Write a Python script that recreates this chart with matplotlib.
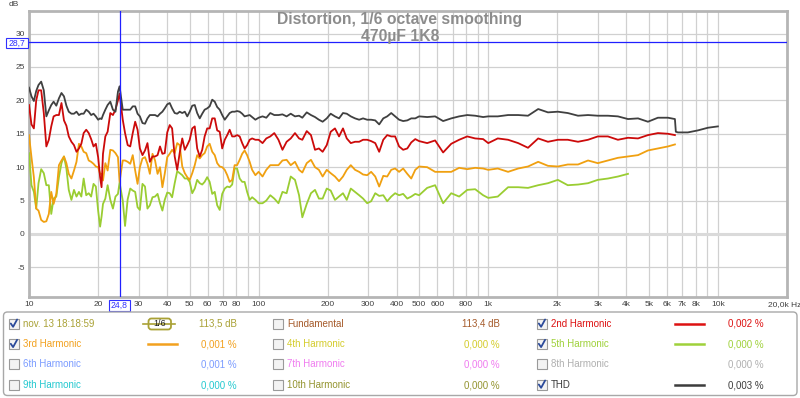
import matplotlib
matplotlib.use("Agg")
import matplotlib.pyplot as plt
from matplotlib.patches import Rectangle, FancyBboxPatch
from matplotlib.ticker import NullLocator

# frequency grid (Hz) shared by the curves: finer below 500 Hz, coarser above
freq_lo = [10, 10.25, 10.5, 10.75, 11, 11.3, 11.6, 11.9, 12.2, 12.5,
           12.8, 13.15, 13.5, 13.85, 14.2, 14.55, 14.9, 15.3, 15.7, 16.1,
           16.5, 16.9, 17.3, 17.75, 18.2, 18.65, 19.1, 19.55, 20, 20.4,
           20.7, 21, 21.5, 22, 22.6, 23.2, 23.8, 24.4, 24.8, 25.6,
           26.2, 26.9, 27.6, 28.3, 29, 29.7, 30.4, 31.2, 32, 32.8,
           33.6, 34.5, 35.4, 36.3, 37.2, 38.1, 39, 40, 41, 42,
           43.1, 44.2, 45.3, 46.5, 47.7, 48.9, 50.1, 51.4, 52.7, 54,
           55.4, 56.8, 58.2, 59.7, 61.2, 62.8, 64.4, 66, 67.7, 69.4,
           71.2, 73, 74.8, 76.7, 78.6, 80.6, 82.7, 84.8, 86.9, 89.1,
           91.4, 93.7, 96.8, 100]
freq_mid = [104, 108, 112.4, 117, 122, 127, 132.4, 138, 144, 150,
            155, 162, 169, 176, 183, 190, 198, 206, 215, 224,
            233, 242, 252, 263, 274, 285, 297, 309, 322, 335,
            349, 363, 378, 393, 409, 426, 444, 462, 481]
freq_hi = [500, 542, 587, 636, 690, 747, 810, 877, 950, 1000,
           1100, 1220, 1350, 1490, 1650, 1820, 2010, 2220, 2460, 2720,
           3000, 3320, 3670, 4060, 4490, 4960, 5480, 6060, 6500]
freq = freq_lo + freq_mid + freq_hi

thd_db = [21.9, 20.6, 19.9, 21.4, 22.3, 22.8, 21.5, 17.6, 18.5, 19.3,
          19.8, 19.2, 20.3, 21.1, 20.6, 19.2, 18.3, 18.0, 18.0, 18.3,
          17.8, 18.0, 18.0, 18.6, 18.3, 17.8, 18.0, 17.6, 17.1, 17.3,
          17.2, 17.8, 18.6, 19.3, 19.8, 18.6, 18.3, 21.3, 22.1, 18.6,
          18.6, 18.6, 18.6, 19.1, 19.1, 18.0, 17.6, 16.6, 16.5, 17.3,
          17.8, 17.8, 17.8, 17.6, 18.0, 18.3, 18.8, 19.4, 19.6, 18.8,
          18.1, 18.0, 18.3, 18.1, 18.3, 17.6, 18.3, 19.2, 19.3, 18.1,
          17.3, 18.0, 18.6, 18.8, 19.1, 20.1, 19.8, 19.0, 18.6, 17.8,
          17.1, 17.6, 18.1, 18.3, 18.3, 18.4, 18.3, 18.0, 17.6, 17.7,
          17.8, 17.5, 17.1, 17.4,
          17.6, 17.4, 18.1, 17.8, 17.8, 17.9, 17.6, 18.0, 17.6, 17.7,
          17.4, 18.2, 17.8, 17.5, 17.1, 16.8, 17.3, 18.0, 17.6, 17.3,
          18.1, 18.0, 17.6, 17.3, 17.1, 17.3, 17.1, 17.1, 17.0, 16.4,
          17.3, 17.6, 18.1, 17.6, 17.1, 16.9, 17.0, 17.3, 17.3,
          17.6, 17.5, 17.6, 16.9, 17.3, 17.6, 17.8, 17.7, 17.5, 17.6,
          17.6, 17.8, 17.8, 17.7, 18.7, 18.2, 18.3, 18.1, 17.7, 17.8,
          17.7, 17.7, 17.6, 17.2, 17.3, 16.8, 17.4, 17.4, 17.2]
thd_tail_freq = [6560, 6700, 7400, 8180, 9050, 10000]
thd_tail_db = [15.3, 15.2, 15.2, 15.5, 15.9, 16.1]

h2_db = [19.3, 16.4, 15.8, 20.0, 21.5, 21.5, 18.1, 13.1, 14.1, 16.1,
         17.6, 17.8, 17.8, 19.6, 17.0, 16.2, 14.6, 13.8, 13.3, 12.3,
         12.8, 13.5, 15.1, 15.6, 15.1, 14.2, 13.1, 13.5, 11.5, 8.5,
         7.0, 12.0, 14.6, 15.3, 18.1, 17.8, 18.6, 20.0, 21.0, 17.1,
         15.1, 13.3, 13.1, 15.1, 16.8, 15.6, 12.8, 11.8, 12.5, 13.6,
         10.8, 11.6, 11.6, 11.8, 13.1, 12.0, 12.1, 15.2, 16.3, 15.8,
         11.6, 9.6, 12.1, 14.3, 12.6, 13.3, 14.1, 15.8, 16.1, 12.8,
         11.6, 12.6, 14.6, 15.8, 15.8, 17.3, 17.3, 15.5, 15.3, 12.8,
         14.1, 14.8, 15.6, 14.6, 14.6, 14.8, 14.6, 13.6, 12.8, 13.3,
         14.1, 14.3, 14.1, 14.1,
         13.6, 14.3, 14.6, 15.1, 14.1, 12.6, 13.8, 14.3, 15.1, 14.3,
         14.1, 15.4, 14.8, 12.6, 12.8, 12.3, 13.3, 15.3, 15.8, 14.6,
         15.8, 14.3, 13.6, 13.8, 13.8, 14.1, 14.1, 13.9, 13.6, 12.3,
         14.1, 14.8, 14.6, 14.6, 13.1, 12.6, 12.8, 13.7, 14.2,
         13.9, 13.6, 14.0, 12.2, 13.5, 14.1, 14.6, 14.3, 14.2, 13.6,
         14.3, 14.1, 13.6, 12.9, 14.3, 13.8, 14.1, 14.1, 13.8, 14.1,
         14.6, 14.6, 14.1, 14.4, 14.3, 14.8, 15.1, 15.0, 14.8]

h3_db = [14.8, 11.5, 8.5, 3.8, 3.5, 2.1, 1.8, 1.9, 3.0, 6.3,
         4.5, 6.0, 10.3, 11.0, 11.6, 10.6, 9.0, 8.3, 9.5, 10.8,
         13.5, 13.1, 12.3, 12.1, 11.0, 10.8, 10.5, 10.1, 10.0, 9.0,
         9.0, 8.0, 10.6, 9.5, 12.6, 12.5, 12.1, 11.5, 7.8, 11.0,
         11.0, 10.8, 10.5, 11.8, 9.5, 7.5, 10.0, 11.3, 11.5, 10.5,
         9.0, 12.0, 11.0, 9.0, 10.0, 7.0, 9.0, 11.5, 12.0, 12.6,
         12.1, 13.6, 13.3, 10.1, 9.1, 8.5, 8.1, 9.1, 10.3, 11.8,
         11.3, 11.8, 12.1, 13.1, 13.5, 12.3, 11.8, 10.6, 10.1, 10.0,
         9.6, 8.8, 7.8, 8.1, 10.3, 10.3, 11.1, 12.0, 12.5, 11.8,
         10.8, 9.6, 8.8, 9.3,
         8.6, 9.6, 10.3, 10.3, 10.3, 11.0, 11.1, 10.3, 10.8, 9.6,
         9.2, 10.6, 11.1, 10.0, 9.6, 8.6, 9.6, 9.1, 8.6, 7.9,
         8.6, 9.6, 10.3, 9.6, 9.3, 8.9, 8.8, 9.3, 8.6, 7.1,
         8.7, 8.6, 9.6, 9.8, 9.3, 9.8, 9.0, 8.3, 9.6,
         10.1, 10.0, 9.3, 9.3, 9.3, 9.9, 9.7, 9.9, 9.8, 9.6,
         9.8, 9.3, 9.8, 10.1, 10.8, 10.2, 10.1, 10.4, 10.4, 11.0,
         10.6, 11.0, 11.4, 11.6, 11.8, 12.5, 12.8, 13.1, 13.4]

h5_db = [12.1, 7.3, 6.3, 3.8, 7.6, 9.7, 9.1, 7.3, 7.3, 3.0,
         5.3, 5.6, 8.5, 10.6, 11.6, 9.8, 6.6, 5.1, 6.6, 5.6,
         6.3, 5.6, 8.3, 5.8, 6.1, 5.6, 7.5, 7.1, 3.5, 1.1,
         2.6, 4.5, 5.3, 7.3, 5.1, 3.8, 5.6, 6.0, 7.7, 5.0,
         1.2, 5.2, 6.8, 6.5, 6.3, 4.0, 3.6, 7.5, 7.1, 3.8,
         4.3, 5.5, 5.6, 6.0, 4.6, 3.5, 5.1, 6.2, 6.1, 5.5,
         7.6, 9.4, 9.1, 8.8, 8.3, 8.3, 7.8, 6.1, 6.8, 8.1,
         7.6, 7.4, 7.8, 8.5, 7.8, 6.0, 6.3, 4.3, 3.6, 6.0,
         6.8, 7.1, 7.0, 7.4, 9.8, 9.8, 8.3, 7.8, 7.8, 6.3,
         5.1, 5.5, 5.1, 4.6,
         4.6, 5.0, 5.8, 5.3, 4.6, 6.3, 6.1, 8.6, 8.1, 5.8,
         2.5, 4.5, 6.1, 6.6, 5.3, 5.3, 6.8, 6.5, 5.1, 5.6,
         6.1, 5.1, 6.8, 6.3, 5.8, 5.3, 4.6, 4.9, 6.1, 5.7,
         5.8, 4.9, 5.6, 6.1, 5.8, 6.0, 5.3, 5.6, 6.0,
         5.8, 6.9, 7.3, 4.6, 6.1, 5.6, 6.6, 6.7, 5.8, 5.4,
         5.6, 7.0, 7.0, 6.9, 7.3, 7.6, 8.1, 7.3, 7.4, 7.6,
         8.1, 8.3, 8.6, 9.0]

grid_freqs = [10, 20, 30, 40, 50, 60, 70, 80, 90,
              100, 200, 300, 400, 500, 600, 700, 800, 900,
              1000, 2000, 3000, 4000, 5000, 6000, 7000, 8000, 9000,
              10000, 20000]
xtick_labels = {10: "10", 20: "20", 30: "30", 40: "40", 50: "50", 60: "60", 70: "70", 80: "80",
                100: "100", 200: "200", 300: "300", 400: "400", 500: "500", 600: "600", 800: "800",
                1000: "1k", 2000: "2k", 3000: "3k", 4000: "4k", 5000: "5k", 6000: "6k",
                7000: "7k", 8000: "8k", 10000: "10k"}
ytick_vals = [-5, 0, 5, 10, 15, 20, 25, 30]

cursor_f = 24.8
cursor_db = 28.7

title1 = "Distortion, 1/6 octave smoothing"
title2 = "470µF 1K8"

# legend table: (label, colour, checked, value)
legend_cols = [
    [("nov. 13 18:18:59", "#a9a135", True, "113,5 dB"),
     ("3rd Harmonic", "#f2a11f", True, "0,001 %"),
     ("6th Harmonic", "#7b9cff", False, "0,001 %"),
     ("9th Harmonic", "#25c9d0", False, "0,000 %")],
    [("Fundamental", "#a55a2a", False, "113,4 dB"),
     ("4th Harmonic", "#d4cc2c", False, "0,000 %"),
     ("7th Harmonic", "#f07cf0", False, "0,000 %"),
     ("10th Harmonic", "#949430", False, "0,000 %")],
    [("2nd Harmonic", "#dd1111", True, "0,002 %"),
     ("5th Harmonic", "#9fd13a", True, "0,000 %"),
     ("8th Harmonic", "#b0b0b0", False, "0,000 %"),
     ("THD", "#3c3c3c", True, "0,003 %")],
]

FONT = "Liberation Sans"
W, H = 800, 398

fig = plt.figure(figsize=(W / 100, H / 100), dpi=100)
fig.patch.set_facecolor("white")

ax = fig.add_axes([29 / W, 1 - 297 / H, 758 / W, 286 / H])
ax.set_xscale("log")
ax.set_xlim(10, 20000)
ax.set_ylim(-9.43, 33.37)

ax.set_xticks(grid_freqs)
ax.set_xticklabels([xtick_labels.get(f, "") for f in grid_freqs])
ax.xaxis.set_minor_locator(NullLocator())
ax.set_yticks(ytick_vals)
ax.set_yticklabels([str(v) for v in ytick_vals])
ax.tick_params(length=0, labelsize=6, labelcolor="#404040", pad=3)
for lab in ax.get_xticklabels() + ax.get_yticklabels():
    lab.set_fontfamily(FONT)
ax.grid(True, color="#d0d0d0", lw=0.9)
ax.axhline(0, color="#dadada", lw=2.2, zorder=0.8)
ax.set_axisbelow(True)
for sp in ax.spines.values():
    sp.set_color("#b5b5b5")
    sp.set_linewidth(2)

ax.plot(freq[:len(h5_db)], h5_db, color="#9acd32", lw=1.3, zorder=3)
ax.plot(freq[:len(h3_db)], h3_db, color="#f0a010", lw=1.3, zorder=4)
ax.plot(freq[:len(h2_db)], h2_db, color="#cc0a0a", lw=1.3, zorder=5)
ax.plot(freq[:len(thd_db)] + thd_tail_freq, thd_db + thd_tail_db, color="#404040", lw=1.3, zorder=6)

ax.axhline(cursor_db, color="#2020ff", lw=0.9, zorder=7)
ax.axvline(cursor_f, color="#2020ff", lw=0.9, zorder=7)

ax.text(0.5 - 8 / 758, 1 - 8.5 / 286, title1, transform=ax.transAxes, ha="center", va="center",
        fontsize=11.3, fontweight="bold", color="#8c8c8c", family=FONT, zorder=8)
ax.text(0.5 - 8 / 758, 1 - 26 / 286, title2, transform=ax.transAxes, ha="center", va="center",
        fontsize=11.3, fontweight="bold", color="#8c8c8c", family=FONT, zorder=8)

# overlay in pixel coordinates for labels and the legend panel
ov = fig.add_axes([0, 0, 1, 1])
ov.set_xlim(0, W)
ov.set_ylim(H, 0)
ov.axis("off")

ov.text(14, 4.5, "dB", ha="center", va="center", fontsize=6, color="#404040", family=FONT)
ov.text(768, 305, "20,0k Hz", ha="left", va="center", fontsize=6, color="#404040", family=FONT)

ov.add_patch(Rectangle((6, 38), 21.5, 9.5, facecolor="white", edgecolor="#3030ff", lw=0.8))
ov.text(16.8, 43, "28,7", ha="center", va="center", fontsize=6.2, color="#3030ff", family=FONT)
ov.add_patch(Rectangle((108.5, 300), 21, 10.5, facecolor="white", edgecolor="#3030ff", lw=0.8))
ov.text(119, 305.5, "24,8", ha="center", va="center", fontsize=6.2, color="#3030ff", family=FONT)

ov.add_patch(FancyBboxPatch((3.5, 312), 793.5, 83.5, boxstyle="round,pad=0,rounding_size=4",
                            facecolor="white", edgecolor="#a8a8a8", lw=1.0))

rows_y = [324, 344.3, 364.3, 385]
cb_x = [8.5, 272.5, 536.5]
label_x = [23, 287, 551]
value_x = [236.5, 500, 763.5]
sample_x = {0: (148, 177), 2: (675, 704)}

for c, col in enumerate(legend_cols):
    for r, (label, color, checked, value) in enumerate(col):
        y = rows_y[r]
        ov.add_patch(Rectangle((cb_x[c], y - 5.5), 10.5, 10.5, facecolor="#f3f3f3",
                               edgecolor="#9a9a9a", lw=0.8))
        if checked:
            ov.plot([cb_x[c] + 2.3, cb_x[c] + 4.6, cb_x[c] + 8.6], [y - 0.5, y + 2.8, y - 4.5],
                    color="#2b4a9a", lw=1.3, solid_capstyle="round")
        ov.text(label_x[c], y, label, ha="left", va="center", fontsize=7, color=color, family=FONT)
        ov.text(value_x[c], y, value, ha="right", va="center", fontsize=7, color=color, family=FONT)
        if checked and c in sample_x and not (c == 0 and r == 0):
            x0, x1 = sample_x[c]
            ov.plot([x0, x1], [y, y], color=color, lw=1.8)

# smoothing badge for the measurement row
ov.plot([143, 175], [rows_y[0], rows_y[0]], color="#a9a135", lw=1.2)
ov.add_patch(FancyBboxPatch((148.5, rows_y[0] - 5.5), 22.5, 11, boxstyle="round,pad=0,rounding_size=3",
                            facecolor="white", edgecolor="#a9a135", lw=1.3))
ov.text(159.7, rows_y[0], "1/6", ha="center", va="center", fontsize=6.5, color="#202020", family=FONT)

fig.savefig("out.png", dpi=100)
